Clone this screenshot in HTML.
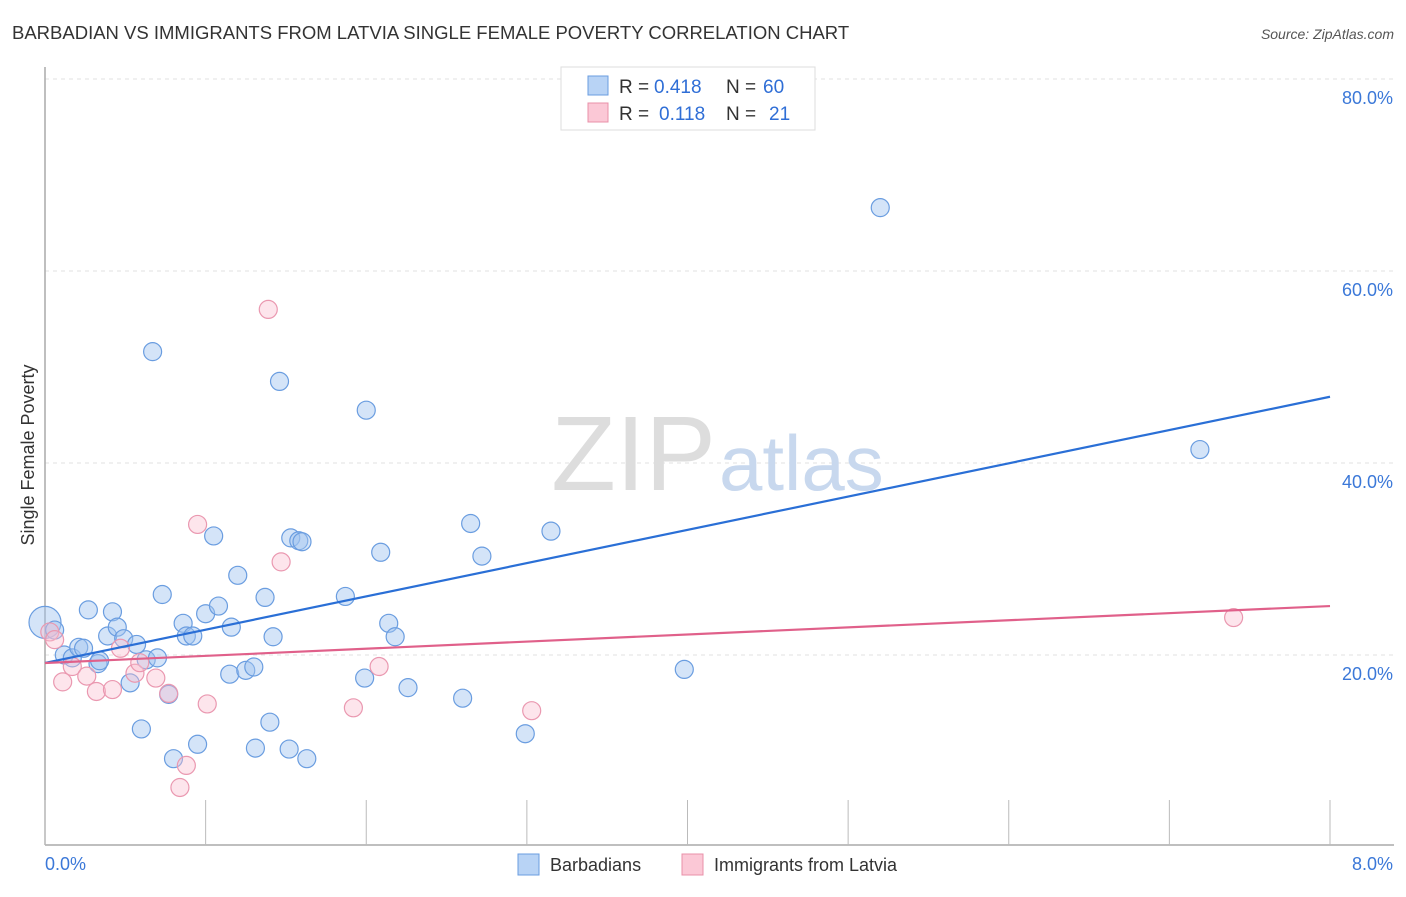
<!DOCTYPE html>
<html><head><meta charset="utf-8"><style>
body{margin:0;background:#fff;font-family:"Liberation Sans",sans-serif;}
svg text{font-family:"Liberation Sans",sans-serif;}
</style></head><body>
<svg width="1406" height="892" xmlns="http://www.w3.org/2000/svg">
<text x="12" y="39" font-size="18.5" fill="#333">BARBADIAN VS IMMIGRANTS FROM LATVIA SINGLE FEMALE POVERTY CORRELATION CHART</text>
<text x="1394" y="39" font-size="14" fill="#555" font-style="italic" text-anchor="end">Source: ZipAtlas.com</text>
<g id="grid"></g>
<text x="716" y="490" font-size="106" fill="#ddd" text-anchor="end" font-family="Liberation Serif">ZIP</text>
<text x="719" y="490" font-size="78" fill="#c8d8ee">atlas</text>
<g id="pts"></g>
<g id="lines"></g>
<text transform="translate(34,455) rotate(-90)" font-size="18" fill="#333" text-anchor="middle">Single Female Poverty</text>
<g>
<rect x="561" y="67" width="254" height="63" fill="#fff" stroke="#ddd"/>
<rect x="588" y="76" width="20" height="19" fill="#b8d3f5" stroke="#6a9de0"/>
<rect x="588" y="103" width="20" height="19" fill="#fbc8d6" stroke="#e890a8"/>
<text x="619" y="93" font-size="19" fill="#333">R =</text>
<text x="654" y="93" font-size="19" fill="#2f6ed6">0.418</text>
<text x="726" y="93" font-size="19" fill="#333">N =</text>
<text x="763" y="93" font-size="19" fill="#2f6ed6">60</text>
<text x="619" y="120" font-size="19" fill="#333">R =</text>
<text x="659" y="120" font-size="19" fill="#2f6ed6">0.118</text>
<text x="726" y="120" font-size="19" fill="#333">N =</text>
<text x="769" y="120" font-size="19" fill="#2f6ed6">21</text>
</g>
<g>
<rect x="518" y="854" width="21" height="21" fill="#b8d3f5" stroke="#6a9de0"/>
<text x="550" y="871" font-size="18" fill="#333">Barbadians</text>
<rect x="682" y="854" width="21" height="21" fill="#fbc8d6" stroke="#e890a8"/>
<text x="714" y="871" font-size="18" fill="#333">Immigrants from Latvia</text>
</g>
</svg>
<script>
const xTicks=[0,1,2,3,4,5,6,7,8];
const yTicks=[20,40,60,80];
const blueX=[0.0,0.06,0.12,0.17,0.21,0.24,0.27,0.33,0.34,0.39,0.42,0.45,0.49,0.53,0.57,0.6,0.63,0.67,0.7,0.73,0.77,0.8,0.86,0.88,0.92,0.95,1.0,1.05,1.08,1.15,1.16,1.2,1.25,1.3,1.31,1.37,1.4,1.42,1.46,1.52,1.53,1.58,1.6,1.63,1.87,1.99,2.0,2.09,2.14,2.18,2.26,2.6,2.65,2.72,2.99,3.15,3.98,5.2,7.19];
const blueY=[23.4,22.6,20.0,19.7,20.8,20.7,24.7,19.1,19.4,21.98,24.5,22.9,21.7,17.1,21.1,12.3,19.5,51.6,19.7,26.3,15.9,9.2,23.3,21.98,21.98,10.7,24.3,32.4,25.1,18.0,22.9,28.3,18.4,18.75,10.3,26.0,13.0,21.9,48.5,10.2,32.2,31.9,31.8,9.2,26.1,17.6,45.5,30.7,23.3,21.9,16.6,15.5,33.7,30.3,11.8,32.9,18.5,66.6,41.4];
const pinkX=[0.03,0.06,0.11,0.17,0.26,0.32,0.42,0.47,0.56,0.59,0.69,0.77,0.88,0.84,0.95,1.01,1.39,1.47,1.92,2.08,3.03,7.4];
const pinkY=[22.4,21.6,17.2,18.8,17.8,16.2,16.4,20.7,18.1,19.2,17.6,16.0,8.5,6.2,33.6,14.9,56.0,29.7,14.5,18.8,14.2,23.9];
const blueLine=[19.17,46.9];
const pinkLine=[19.17,25.1];
const L=45,R=1330,Y0=847,ppy=9.6;
const sx=v=>L+v/8*(R-L), sy=v=>Y0-v*ppy;
const NS="http://www.w3.org/2000/svg";
function mk(t,a,p){const e=document.createElementNS(NS,t);for(const k in a)e.setAttribute(k,a[k]);p.appendChild(e);return e;}
const grid=document.getElementById('grid');
yTicks.forEach(v=>{
 const l=mk('line',{x1:L,x2:1394,y1:sy(v),y2:sy(v),stroke:'#e2e2e2','stroke-dasharray':'4,4'},grid);
 
 
 const t=mk('text',{x:1393,y:sy(v)+25,'font-size':18,fill:'#3b78d8','text-anchor':'end'},grid);
 t.textContent=v.toFixed(1)+'%';
 
 
});
const ax=mk('line',{x1:L,x2:1394,y1:845,y2:845,stroke:'#aaa','stroke-width':1.5},grid);


const ay=mk('line',{x1:L,x2:L,y1:67,y2:845,stroke:'#aaa','stroke-width':1.5},grid);


xTicks.forEach(v=>{
 const l=mk('line',{x1:sx(v),x2:sx(v),y1:800,y2:845,stroke:'#bbb'},grid);
 
 
});
[0,8].forEach((v,i)=>{
 const t=mk('text',{x:i?1393:45,y:870,'font-size':18,fill:'#3b78d8','text-anchor':i?'end':'start'},grid);
 t.textContent=v.toFixed(1)+'%';
 
 
});
const pts=document.getElementById('pts');
blueX.forEach((x,i)=>{
 const c=mk('circle',{cx:sx(x),cy:sy(blueY[i]),r:i===0?16:9,fill:'rgba(160,196,240,0.45)',stroke:'#6a9de0','stroke-width':1.2},pts);
 
 
});
pinkX.forEach((x,i)=>{
 const c=mk('circle',{cx:sx(x),cy:sy(pinkY[i]),r:9,fill:'rgba(250,190,208,0.4)',stroke:'#ea98b0','stroke-width':1.2},pts);
 
 
});
const lines=document.getElementById('lines');
const bl=mk('line',{x1:sx(0),y1:sy(blueLine[0]),x2:sx(8),y2:sy(blueLine[1]),stroke:'#2a6fd6','stroke-width':2.2},lines);


const pl=mk('line',{x1:sx(0),y1:sy(pinkLine[0]),x2:sx(8),y2:sy(pinkLine[1]),stroke:'#e0608a','stroke-width':2.2},lines);


</script>
</body></html>
